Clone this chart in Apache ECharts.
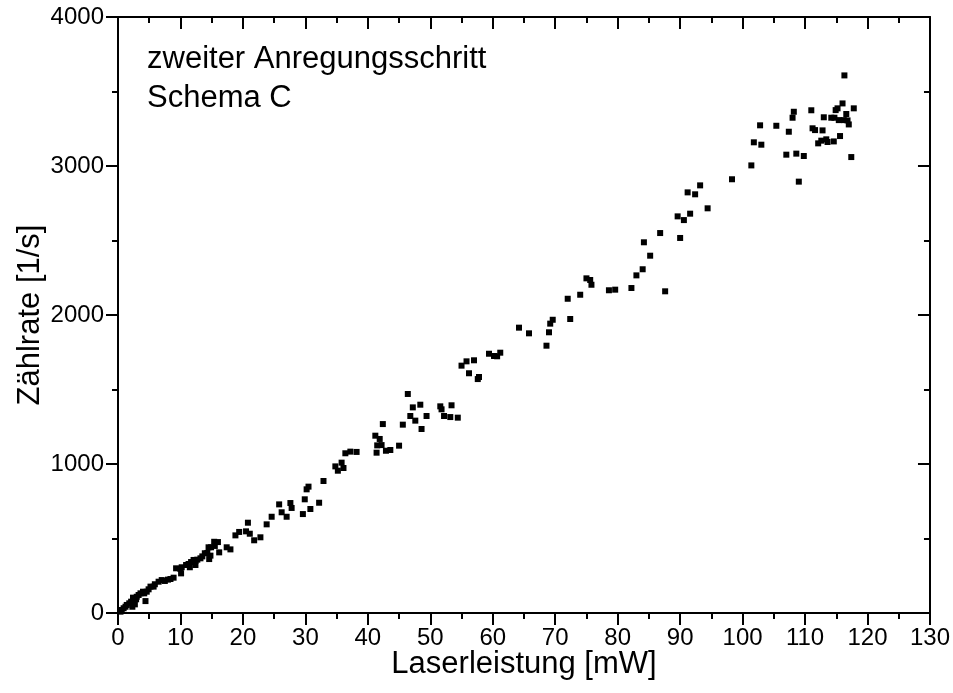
<!DOCTYPE html>
<html>
<head>
<meta charset="utf-8">
<script src="https://cdn.jsdelivr.net/npm/echarts@6/dist/echarts.min.js"></script>
<style>
  html, body { margin: 0; padding: 0; background: #fff; }
  #chart { width: 953px; height: 693px; }
</style>
</head>
<body>
<div id="chart"></div>
<script>
// Laser power in mW (x) and count rate in 1/s (y) for each measurement
const laserPower = [
  0.4, 0.6, 0.9, 1.2, 1.4, 1.8, 2.1, 2.3, 2.4, 2.7, 2.7, 2.9, 3.0, 3.3, 3.6, 4.0, 4.2, 4.4, 4.6, 4.9,
  5.2, 5.7, 5.9, 6.5, 7.0, 7.5, 8.0, 8.4, 8.9, 9.3, 10.0, 10.1, 10.2, 10.9, 11.3,
  11.5, 11.7, 12.1, 12.4, 12.4, 12.7, 13.2, 13.5, 13.9, 14.3, 14.5, 14.6, 14.8, 14.9, 15.4, 15.5,
  16.0, 16.2, 17.4, 18.0, 18.8, 19.4, 20.5, 20.8, 21.1, 21.8, 22.8, 23.8, 24.6, 25.8, 26.2, 27.0,
  27.6, 27.8, 29.6, 29.9, 30.2, 30.5, 30.8, 32.2, 32.9,
  34.8, 35.2, 35.8, 36.1, 36.4, 37.2, 38.2, 41.2, 41.4, 41.5, 41.9, 42.2, 42.4, 42.9, 43.6, 45.0,
  45.6, 46.4, 46.8, 47.2, 47.6, 48.4, 48.6, 49.4, 51.6, 51.8, 52.2, 53.2, 53.4, 54.4, 55.0, 55.8,
  56.2, 57.0, 57.6, 57.8, 59.4, 60.2, 60.7, 61.2,
  64.2, 65.8, 68.6, 69.0, 69.2, 69.6, 72.0, 72.4, 74.0, 75.0, 75.6, 75.8, 78.6, 79.6, 82.2, 83.0,
  84.0, 84.2, 85.2, 86.8, 87.6, 89.6, 90.0, 90.6, 91.2, 91.6, 92.4, 93.2, 94.4, 98.3, 101.4,
  101.8, 102.8, 103.0, 105.4, 107.0, 107.4, 108.0, 108.2, 108.6, 109.0, 109.8, 111.0, 111.2, 111.6,
  112.1, 112.6, 112.8, 113.0, 113.4, 113.6, 114.2, 114.6, 114.7, 114.9, 115.2, 115.4, 115.6, 116.0,
  116.3, 116.2, 116.6, 116.8, 117.0, 117.4, 117.8
];
const countRate = [
  9, 20, 32, 42, 54, 65, 76, 42, 103, 58, 99, 92, 109, 121, 132, 143, 132, 80, 143, 159,
  177, 177, 193, 210, 221, 215, 224, 228, 237, 300, 295, 266, 307, 322, 329,
  307, 342, 356, 349, 322, 358, 367, 380, 401, 403, 441, 362, 385, 441, 478, 450,
  476, 407, 441, 427, 521, 544, 548, 606, 532, 488, 508, 595, 646, 729, 676, 646,
  738, 705, 664, 763, 830, 848, 698, 740, 886,
  984, 955, 1009, 973, 1072, 1083, 1081, 1190, 1076, 1125, 1168, 1127, 1268, 1089, 1094, 1123,
  1264, 1470, 1322, 1380, 1291, 1398, 1235, 1322, 1387, 1367, 1322, 1315, 1394, 1311, 1660, 1689,
  1609, 1696, 1570, 1584, 1740, 1725, 1723, 1747,
  1915, 1877, 1794, 1884, 1942, 1968, 2109, 1973, 2136, 2246, 2235, 2203, 2166, 2170, 2181, 2266,
  2307, 2488, 2398, 2550, 2159, 2662, 2517, 2637, 2823, 2680, 2810, 2870, 2716, 2911, 3004,
  3159, 3273, 3143, 3270, 3076, 3230, 3324, 3364, 3083, 2895, 3067, 3374, 3253, 3241,
  3152, 3170, 3239, 3327, 3179, 3161, 3324, 3165, 3324, 3375, 3387, 3308, 3201, 3420,
  3608, 3308, 3349, 3306, 3279, 3060, 3387
];

// Axis ranges and tick spacing
const xRange = [0, 130];
const xStep = 10;
const yRange = [0, 4000];
const yStep = 1000;

const xName = 'Laserleistung [mW]';
const yName = 'Zählrate [1/s]';
const noteLines = ['zweiter Anregungsschritt', 'Schema C'];

const points = laserPower.map((x, i) => [x, countRate[i]]);

const FONT = 'Liberation Sans, Arial, sans-serif';
const lineStyle = { color: '#000', width: 2 };

function axisBase(pos, range, step, labelled, inside, margin) {
  return {
    type: 'value',
    position: pos,
    min: range[0],
    max: range[1],
    interval: step,
    gridIndex: 0,
    splitLine: { show: false },
    axisLine: { show: true, onZero: false, lineStyle },
    axisTick: { show: true, inside, length: 12, lineStyle: { color: '#000', width: 2 } },
    minorTick: { show: true, splitNumber: 2, length: 6, lineStyle: { color: '#000', width: 2 } },
    axisLabel: {
      show: labelled,
      color: '#000',
      fontFamily: FONT,
      fontSize: 24,
      margin: margin,
      formatter: (v) => String(v)
    }
  };
}

const chart = echarts.init(document.getElementById('chart'), null, { renderer: 'canvas' });

const xBottom = Object.assign(axisBase('bottom', xRange, xStep, true, false, 13), {
  name: xName,
  nameLocation: 'middle',
  nameGap: 36,
  nameMoveOverlap: false,
  nameTextStyle: { color: '#000', fontFamily: FONT, fontSize: 31 }
});
const xTop = axisBase('top', xRange, xStep, false, true, 8);

const yLeft = Object.assign(axisBase('left', yRange, yStep, true, false, 14), {
  name: yName,
  nameLocation: 'middle',
  nameGap: 72,
  nameMoveOverlap: false,
  nameTextStyle: { color: '#000', fontFamily: FONT, fontSize: 31 }
});
const yRight = axisBase('right', yRange, yStep, false, true, 8);

chart.setOption({
  animation: false,
  backgroundColor: '#fff',
  grid: { left: 118, right: 23, top: 17, bottom: 80, containLabel: false },
  xAxis: [xBottom, xTop],
  yAxis: [yLeft, yRight],
  graphic: [{
    type: 'text',
    left: 147,
    top: 40,
    style: {
      text: noteLines.join('\n'),
      fill: '#000',
      font: '31px ' + FONT,
      lineHeight: 39
    }
  }],
  series: [{
    type: 'scatter',
    xAxisIndex: 0,
    yAxisIndex: 0,
    data: points,
    symbol: 'rect',
    symbolSize: 6,
    itemStyle: { color: '#000', opacity: 1 }
  }]
});
</script>
</body>
</html>
